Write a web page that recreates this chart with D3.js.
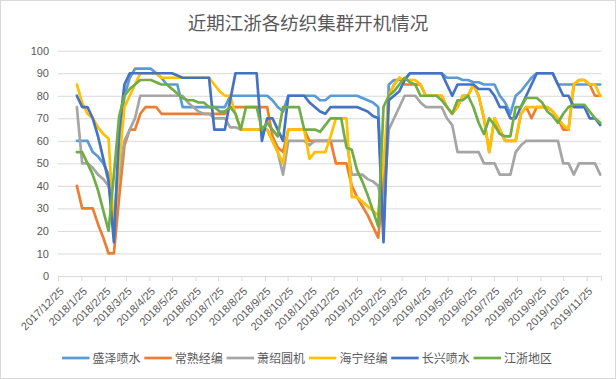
<!DOCTYPE html>
<html>
<head>
<meta charset="utf-8">
<script src="https://cdn.jsdelivr.net/npm/d3@7/dist/d3.min.js"></script>
<style>
  body { margin: 0; background: #fff; }
  svg { display: block; }
  text { font-family: "Noto Sans CJK SC", "Noto Sans", sans-serif; fill: #595959; }
</style>
</head>
<body>
<script>
var width = 616,
    height = 379;

var plotLeft = 58, plotRight = 601, plotTop = 50.7, plotBottom = 276;

// weekly observations, Fridays 2018/1/19 .. 2019/12/13
var dates = d3.timeFriday.range(new Date(2018, 0, 19), new Date(2019, 11, 14));

var tickLabels = ["2017/12/25","2018/1/25","2018/2/25","2018/3/25","2018/4/25","2018/5/25",
  "2018/6/25","2018/7/25","2018/8/25","2018/9/25","2018/10/25","2018/11/25","2018/12/25",
  "2019/1/25","2019/2/25","2019/3/25","2019/4/25","2019/5/25","2019/6/25","2019/7/25",
  "2019/8/25","2019/9/25","2019/10/25","2019/11/25"];

var names = ["盛泽喷水", "常熟经编", "萧绍圆机", "海宁经编", "长兴喷水", "江浙地区"];
var colors = ["#5B9BD5", "#ED7D31", "#A5A5A5", "#FFC000", "#4472C4", "#70AD47"];

var shengze = [60,60,60,55,53,50,45,18,60,80, 88,92,92,92,92,90,88,85,85,85,
  75,75,75,75,75,75,75,75,75,80, 80,80,80,80,80,80,80,78,75,73,
  80,80,80,80,80,80,78,78,80,80, 80,80,80,80,79,78,77,75,20,85,
  87,87,87,90,90,90,90,90,90,90, 88,88,88,87,87,86,86,85,85,85,
  80,77,72,80,82,85,88,90,90,90, 90,85,85,85,85,85,85,85,85,85];

var changshu = [40,30,30,30,23,17,10,10,35,58, 65,65,72,75,75,75,72,72,72,72,
  72,72,72,72,72,72,72,72,72,75, 75,75,75,75,75,75,75,62,57,55,
  65,65,65,65,60,60,60,60,60,50, 50,50,40,35,31,27,22,17,40,80,
  85,88,85,85,85,85,80,80,80,80, 75,72,75,80,80,85,80,70,55,70,
  65,60,60,60,72,75,70,75,75,75, 73,70,65,65,85,87,87,85,80,80];

var xiaoshao = [75,50,50,48,45,43,40,25,45,60, 65,70,80,80,80,80,80,80,80,80,
  80,77,75,73,72,72,70,70,70,66, 66,65,65,65,65,65,65,60,55,45,
  60,60,60,60,58,60,60,60,60,60, 60,60,45,45,45,43,42,40,30,65,
  70,75,80,80,80,77,75,75,75,75, 70,67,55,55,55,55,55,50,50,50,
  45,45,45,55,58,60,60,60,60,60, 60,60,50,50,45,50,50,50,50,45];

var haining = [85,77,72,70,66,63,61,20,50,75, 80,85,90,90,90,90,88,88,88,88,
  88,88,88,88,88,88,85,82,80,80, 72,65,65,65,65,65,65,60,55,50,
  65,65,65,65,52,55,55,55,62,70, 70,70,35,35,33,31,29,27,50,80,
  85,88,87,87,87,85,80,80,80,80, 75,72,75,80,80,85,80,70,55,70,
  65,60,60,60,72,75,75,75,75,75, 73,70,67,65,85,87,87,85,85,80];

var changxing = [80,75,75,70,62,52,42,15,65,85, 90,90,90,90,90,90,90,90,90,89,
  88,88,88,88,88,88,65,65,65,78, 90,90,90,90,90,60,70,70,65,60,
  80,80,80,80,77,75,73,72,75,75, 75,75,75,75,74,73,71,70,15,78,
  80,82,87,90,90,90,90,90,90,90, 85,80,85,85,85,85,83,83,83,80,
  75,75,70,70,75,80,85,90,90,90, 90,85,80,80,75,75,75,70,70,67];

var jiangzhe = [55,55,50,45,38,29,20,45,71,80, 83,85,87,87,87,86,85,85,83,81,
  79,78,78,77,77,75,75,73,73,75, 72,65,75,75,75,65,68,65,62,75,
  75,75,75,65,65,65,64,67,70,70, 70,57,56,47,42,36,29,22,75,80,
  82,85,88,86,85,80,80,80,80,78, 75,72,78,78,80,75,68,63,70,67,
  63,62,62,75,75,79,79,79,77,73, 71,68,72,75,76,76,76,73,70,68];

var series = [shengze, changshu, xiaoshao, haining, changxing, jiangzhe];

var parseTick = d3.timeParse("%Y/%m/%d");
var tickDates = tickLabels.map(parseTick);

var x = d3.scaleTime()
    .domain([tickDates[0], new Date(2019, 11, 14)])
    .range([plotLeft, plotRight]);

var y = d3.scaleLinear()
    .domain([0, 100])
    .range([plotBottom, plotTop]);

var svg = d3.select("body").append("svg")
    .attr("width", width)
    .attr("height", height);

svg.append("rect")
    .attr("x", 0.5).attr("y", 0.5)
    .attr("width", width - 1).attr("height", height - 1)
    .attr("fill", "#fff")
    .attr("stroke", "#d9d9d9");

// title
svg.append("text")
    .attr("x", 308)
    .attr("y", 30)
    .attr("text-anchor", "middle")
    .attr("font-size", 18.5)
    .text("近期江浙各纺织集群开机情况");

// gridlines + y labels
var yAxis = svg.append("g")
    .attr("transform", "translate(" + plotLeft + ",0)")
    .call(d3.axisLeft(y).tickValues(d3.range(0, 101, 10)).tickSize(-(plotRight - plotLeft)).tickPadding(9));
yAxis.select(".domain").remove();
yAxis.selectAll(".tick line").attr("stroke", "#d9d9d9");
yAxis.selectAll(".tick text")
    .attr("font-size", 11)
    .attr("fill", "#595959")
    .style("font-family", "'Liberation Sans', sans-serif");

// x axis
var xAxis = svg.append("g")
    .attr("transform", "translate(0," + plotBottom + ")")
    .call(d3.axisBottom(x).tickValues(tickDates).tickSize(5).tickFormat(function(d, i) { return tickLabels[i]; }));
xAxis.select(".domain").attr("stroke", "#d9d9d9");
xAxis.selectAll(".tick line").attr("stroke", "#d9d9d9");
xAxis.selectAll(".tick text")
    .attr("font-size", 11)
    .attr("fill", "#595959")
    .style("font-family", "'Liberation Sans', sans-serif")
    .attr("text-anchor", "end")
    .attr("dy", 0)
    .attr("y", 0)
    .attr("transform", "translate(6,16) rotate(-45)");

// lines
var line = d3.line()
    .x(function(d, i) { return x(dates[i]); })
    .y(function(d) { return y(d); });

svg.append("g")
  .selectAll("path")
  .data(series)
  .enter().append("path")
    .attr("d", line)
    .attr("fill", "none")
    .attr("stroke", function(d, i) { return colors[i]; })
    .attr("stroke-width", 2.7)
    .attr("stroke-linejoin", "round")
    .attr("stroke-linecap", "round");

// legend
var legend = svg.append("g")
  .selectAll("g")
  .data(names)
  .enter().append("g")
    .attr("transform", function(d, i) { return "translate(" + (62 + i * 82.3) + ",358)"; });

legend.append("line")
    .attr("x1", 0).attr("x2", 27.5)
    .attr("stroke", function(d, i) { return colors[i]; })
    .attr("stroke-width", 2.7);

legend.append("text")
    .attr("x", 30.5)
    .attr("y", 4.5)
    .attr("font-size", 12)
    .text(function(d) { return d; });
</script>
</body>
</html>
